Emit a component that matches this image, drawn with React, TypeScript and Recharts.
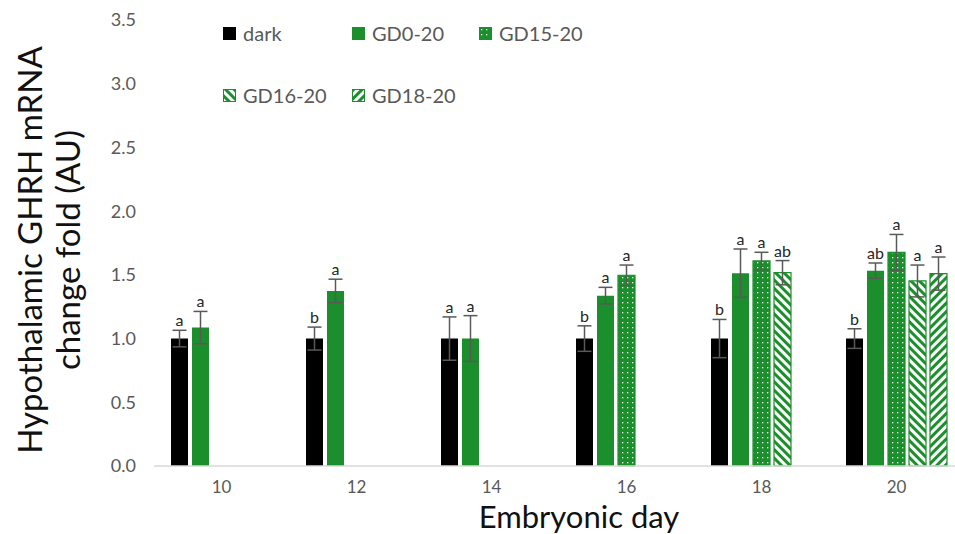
import { BarChart, Bar, XAxis, YAxis, ErrorBar, LabelList, Legend } from 'recharts'

const DAYS = ['10', '12', '14', '16', '18', '20']

const DARK = [1.0, 1.0, 1.0, 1.0, 1.0, 1.0]
const DARK_ERR = [0.065, 0.09, 0.17, 0.1, 0.15, 0.077]
const DARK_SIG = ['a', 'b', 'a', 'b', 'b', 'b']

const GD0 = [1.086, 1.374, 1.0, 1.337, 1.513, 1.533]
const GD0_ERR = [0.127, 0.092, 0.18, 0.065, 0.19, 0.06]
const GD0_SIG = ['a', 'a', 'a', 'a', 'a', 'ab']

const GD15 = [null, null, null, 1.497, 1.609, 1.677]
const GD15_ERR = [null, null, null, 0.08, 0.068, 0.14]
const GD15_SIG = ['', '', '', 'a', 'a', 'a']

const GD16 = [null, null, null, null, 1.517, 1.452]
const GD16_ERR = [null, null, null, null, 0.095, 0.125]
const GD16_SIG = ['', '', '', '', 'ab', 'a']

const GD18 = [null, null, null, null, null, 1.51]
const GD18_ERR = [null, null, null, null, null, 0.13]
const GD18_SIG = ['', '', '', '', '', 'a']

const Y_TICKS = [0, 0.5, 1, 1.5, 2, 2.5, 3, 3.5]

const GREEN = '#1b8f2b'
const FONT = 'Lato, "Open Sans", sans-serif'

const SERIES = [
  { key: 'dark', name: 'dark', vals: DARK, errs: DARK_ERR, sigs: DARK_SIG, fill: '#000000', stroke: 'none' },
  { key: 'gd0', name: 'GD0-20', vals: GD0, errs: GD0_ERR, sigs: GD0_SIG, fill: GREEN, stroke: 'none' },
  { key: 'gd15', name: 'GD15-20', vals: GD15, errs: GD15_ERR, sigs: GD15_SIG, fill: 'url(#dots)', stroke: GREEN },
  { key: 'gd16', name: 'GD16-20', vals: GD16, errs: GD16_ERR, sigs: GD16_SIG, fill: 'url(#hatchDown)', stroke: GREEN },
  { key: 'gd18', name: 'GD18-20', vals: GD18, errs: GD18_ERR, sigs: GD18_SIG, fill: 'url(#hatchUp)', stroke: GREEN },
]

const data = DAYS.map((day, i) => {
  const row: Record<string, string | number | null> = { day }
  SERIES.forEach(s => {
    row[s.key] = s.vals[i]
    row[s.key + 'Err'] = s.errs[i]
  })
  return row
})

// letter above the top of each error bar; the label value is the day
const sigLabel = (vals: (number | null)[], errs: (number | null)[], sigs: string[]) => (props: any) => {
  const { x, y, width, height, value } = props
  const i = DAYS.indexOf(String(value))
  if (i < 0 || vals[i] == null || !sigs[i]) return null
  const perUnit = Number(height) / Number(vals[i])
  const top = Number(y) - (errs[i] ?? 0) * perUnit
  return (
    <text x={Number(x) + Number(width) / 2} y={top - 4} textAnchor="middle"
      fontSize={16} fontFamily={FONT} fill="#262626">
      {sigs[i]}
    </text>
  )
}

const LegendBox = () => (
  <div style={{
    display: 'grid', gridTemplateColumns: '129px 127px 140px', rowGap: 36,
    fontFamily: FONT, fontSize: 20, color: '#595959',
  }}>
    {SERIES.map(s => (
      <div key={s.key} style={{ display: 'flex', alignItems: 'center', height: 26 }}>
        <svg width={13} height={13} style={{ marginRight: 7 }}>
          <rect x={0.5} y={0.5} width={12} height={12} fill={s.fill}
            stroke={s.stroke === 'none' ? s.fill : s.stroke} strokeWidth={1} />
        </svg>
        {s.name}
      </div>
    ))}
  </div>
)

const YTitle = () => (
  <text transform="rotate(-90, 0, 0)" fontFamily={FONT} fontSize={33} fill="#111" textAnchor="middle">
    <tspan x={-250} y={42}>Hypothalamic GHRH mRNA</tspan>
    <tspan x={-250} y={80}>change fold (AU)</tspan>
  </text>
)

export default function App() {
  return (
    <div style={{ position: 'fixed', left: 0, top: 0, width: 955, height: 534, overflow: 'hidden', background: '#fff' }}>
      <BarChart width={975} height={534} data={data} barSize={17} barGap={4}
        margin={{ top: 20, right: 11, left: 0, bottom: 0 }}>
        <defs>
          <pattern id="dots" width={5} height={5} patternUnits="userSpaceOnUse">
            <rect width={5} height={5} fill={GREEN} />
            <rect x={2} y={2} width={1.3} height={1.3} fill="#ffffff" />
          </pattern>
          <pattern id="hatchDown" width={6} height={6} patternUnits="userSpaceOnUse" patternTransform="rotate(-45)">
            <rect width={6} height={6} fill="#ffffff" />
            <rect width={3} height={6} fill={GREEN} />
          </pattern>
          <pattern id="hatchUp" width={6} height={6} patternUnits="userSpaceOnUse" patternTransform="rotate(45)">
            <rect width={6} height={6} fill="#ffffff" />
            <rect width={3} height={6} fill={GREEN} />
          </pattern>
        </defs>
        <XAxis dataKey="day" height={68} tickLine={false}
          axisLine={{ stroke: '#d9d9d9', strokeWidth: 1.5 }}
          tick={{ fill: '#595959', fontSize: 17, fontFamily: FONT }} tickMargin={9}
          label={{ value: 'Embryonic day', position: 'insideBottom', offset: 6, fill: '#111', fontSize: 31, fontFamily: FONT, dx: 20 }} />
        <YAxis width={154} domain={[0, 3.5]} ticks={Y_TICKS} axisLine={false} tickLine={false}
          tickFormatter={(v: number) => v.toFixed(1)} tickMargin={12}
          tick={{ fill: '#595959', fontSize: 18, fontFamily: FONT }}
          label={{ content: () => <YTitle /> }} />
        <Legend layout="horizontal" verticalAlign="middle" align="center"
          wrapperStyle={{ top: 20, left: 223, width: 420 }} content={() => <LegendBox />} />
        {SERIES.map(s => (
          <Bar key={s.key} dataKey={s.key} name={s.name} fill={s.fill}
            stroke={s.stroke} strokeWidth={s.stroke === 'none' ? 0 : 1.2} isAnimationActive={false}>
            <ErrorBar dataKey={s.key + 'Err'} width={7} stroke="#595959" strokeWidth={1.5} direction="y" />
            <LabelList dataKey={(row: any) => row.day} content={sigLabel(s.vals, s.errs, s.sigs)} />
          </Bar>
        ))}
      </BarChart>
    </div>
  )
}
